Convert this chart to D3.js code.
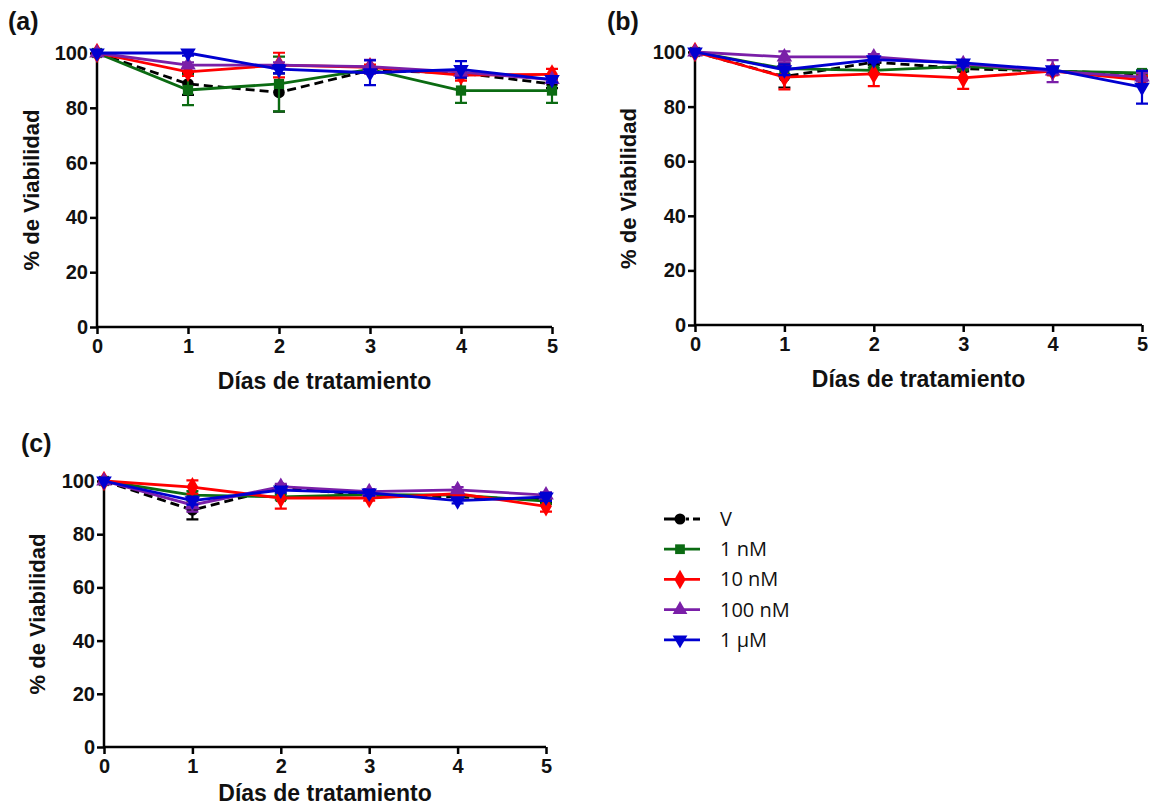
<!DOCTYPE html>
<html lang="es">
<head>
  <meta charset="UTF-8">
  <title>Viabilidad</title>
  <script src="https://d3js.org/d3.v7.min.js"></script>
  <style>
    body { margin: 0; background: #fff; }
    .tick text, .lbl { font-family: "Liberation Sans", Arial, sans-serif; font-weight: bold; fill: #111; }
    .legend text { font-family: "Open Sans", "Liberation Sans", sans-serif; font-size: 20px; fill: #111; }
  </style>
</head>
<body>
  <svg width="1151" height="808"></svg>

  <script>
    var days = [0, 1, 2, 3, 4, 5];
    var seriesNames = ["V", "1 nM", "10 nM", "100 nM", "1 \u00b5M"];
    var yTicks = [0, 20, 40, 60, 80, 100];

    // panel (a)
    var meanA = [
      [100, 88.7, 85.6, 93.7, 92.7, 88.7],
      [100, 86.5, 88.7, 94.0, 86.3, 86.3],
      [100, 93.1, 95.6, 94.8, 91.9, 92.2],
      [100, 95.6, 95.6, 95.0, 93.0, 90.3],
      [100, 100, 94.1, 92.8, 94.0, 90.3]
    ];
    var semA = [
      [0, 4, 7, 1, 1, 1.5],
      [0, 5.5, 10, 1, 4.5, 4.5],
      [0, 1.5, 4.5, 1, 2, 2],
      [0, 1, 1, 2.5, 1, 1],
      [0, 1, 1.5, 4.5, 3, 1]
    ];

    // panel (b)
    var meanB = [
      [100, 91.0, 96.3, 93.9, 93.0, 92.0],
      [100, 93.9, 93.3, 94.7, 93.0, 92.3],
      [100, 90.8, 92.0, 90.5, 93.0, 89.8],
      [100, 98.2, 98.2, 95.7, 93.0, 90.8],
      [100, 93.5, 97.2, 96.0, 93.5, 87.1]
    ];
    var semB = [
      [0, 4, 1, 1, 1, 1],
      [0, 2, 1, 1, 1, 1],
      [0, 4.5, 4.5, 4, 1.5, 1.5],
      [0, 2, 1, 1, 4, 1.5],
      [0, 2, 1, 1, 1, 6]
    ];

    // panel (c)
    var meanC = [
      [100, 89.1, 97.5, 94.7, 94.0, 93.0],
      [100, 94.7, 94.0, 94.9, 94.7, 92.4],
      [100, 97.7, 93.6, 93.6, 95.2, 90.5],
      [100, 91.0, 97.9, 96.0, 96.7, 94.7],
      [100, 92.6, 96.6, 95.5, 92.6, 94.0]
    ];
    var semC = [
      [0, 3.5, 1, 1, 1, 1],
      [0, 1.5, 1, 1, 1, 1],
      [0, 2.5, 4, 1, 1, 2],
      [0, 2.5, 1, 1, 1, 1],
      [0, 1.5, 1, 1, 1, 1.5]
    ];

    var colors = ["#000000", "#0b6b12", "#ff0000", "#7a1fa8", "#0000d0"];
    var symbols = [d3.symbolCircle, d3.symbolSquare, d3.symbolDiamond, d3.symbolTriangle, d3.symbolTriangle];
    var rotate = [0, 0, 0, 0, 180];

    var svg = d3.select("svg");

    var panels = [
      { tag: "(a)", mean: meanA, sem: semA, left: 97, right: 552, top: 53, bottom: 327, tagX: 8, tagY: 30, titleX: 39, titleY: 389 },
      { tag: "(b)", mean: meanB, sem: semB, left: 695, right: 1142, top: 52, bottom: 325, tagX: 607, tagY: 30, titleX: 636, titleY: 387 },
      { tag: "(c)", mean: meanC, sem: semC, left: 104, right: 546, top: 481, bottom: 747, tagX: 21, tagY: 452, titleX: 45, titleY: 801 }
    ];

    panels.forEach(function(p) {
      var x = d3.scaleLinear().domain([0, 5]).range([p.left, p.right]);
      var y = d3.scaleLinear().domain([0, 100]).range([p.bottom, p.top]);
      var g = svg.append("g");

      var xAxis = g.append("g")
          .attr("transform", "translate(0," + p.bottom + ")")
          .call(d3.axisBottom(x).tickValues(days).tickSize(7).tickPadding(5).tickFormat(d3.format("d")));
      var yAxis = g.append("g")
          .attr("transform", "translate(" + p.left + ",0)")
          .call(d3.axisLeft(y).tickValues(yTicks).tickSize(7).tickPadding(2));
      [xAxis, yAxis].forEach(function(a) {
        a.select(".domain").attr("stroke", "#000").attr("stroke-width", 2.5);
        a.selectAll(".tick line").attr("stroke", "#000").attr("stroke-width", 2.5);
        a.selectAll(".tick text").style("font-size", "20px");
      });
      xAxis.select(".domain").attr("d", "M" + p.left + ",0H" + p.right);
      yAxis.select(".domain").attr("d", "M0," + p.bottom + "V" + p.top);

      g.append("text").attr("class", "lbl")
          .attr("x", (p.left + p.right) / 2).attr("y", p.titleY)
          .attr("text-anchor", "middle").style("font-size", "23px")
          .text("Días de tratamiento");
      g.append("text").attr("class", "lbl")
          .attr("transform", "translate(" + p.titleX + "," + (p.top + p.bottom) / 2 + ") rotate(-90)")
          .attr("text-anchor", "middle").style("font-size", "22px")
          .text("% de Viabilidad");
      g.append("text").attr("class", "lbl")
          .attr("x", p.tagX).attr("y", p.tagY)
          .style("font-size", "25px")
          .text(p.tag);

      seriesNames.forEach(function(name, i) {
        var pts = days.map(function(d, j) { return { d: d, m: p.mean[i][j], s: p.sem[i][j] }; });
        var sg = g.append("g");

        sg.selectAll(".err").data(pts.filter(function(o) { return o.s > 0; }))
          .enter().append("path")
          .attr("fill", "none").attr("stroke", colors[i]).attr("stroke-width", 2.2)
          .attr("d", function(o) {
            var cx = x(o.d), y1 = y(o.m + o.s), y2 = y(o.m - o.s);
            return "M" + cx + "," + y1 + "V" + y2 +
              "M" + (cx - 6) + "," + y1 + "H" + (cx + 6) +
              "M" + (cx - 6) + "," + y2 + "H" + (cx + 6);
          });

        sg.append("path").datum(pts)
          .attr("fill", "none").attr("stroke", colors[i]).attr("stroke-width", 2.8)
          .attr("stroke-dasharray", i === 0 ? "9,5" : null)
          .attr("d", d3.line().x(function(o) { return x(o.d); }).y(function(o) { return y(o.m); }));

        sg.selectAll(".mk").data(pts)
          .enter().append("path")
          .attr("fill", colors[i])
          .attr("transform", function(o) { return "translate(" + x(o.d) + "," + y(o.m) + ") rotate(" + rotate[i] + ")"; })
          .attr("d", d3.symbol().type(symbols[i]).size(i === 2 ? 120 : 105));
      });
    });

    // legend
    var legend = svg.append("g").attr("class", "legend");
    seriesNames.forEach(function(name, i) {
      var ly = 519 + i * 30.2;
      legend.append("line")
          .attr("x1", 664).attr("x2", 700).attr("y1", ly).attr("y2", ly)
          .attr("stroke", colors[i]).attr("stroke-width", 2.8)
          .attr("stroke-dasharray", i === 0 ? "18,4,3,4" : null);
      legend.append("path")
          .attr("fill", colors[i])
          .attr("transform", "translate(680," + ly + ") rotate(" + rotate[i] + ")")
          .attr("d", d3.symbol().type(symbols[i]).size(i === 2 ? 110 : 95));
      legend.append("text")
          .attr("x", 720).attr("y", ly + 7)
          .text(name);
    });
  </script>
</body>
</html>
